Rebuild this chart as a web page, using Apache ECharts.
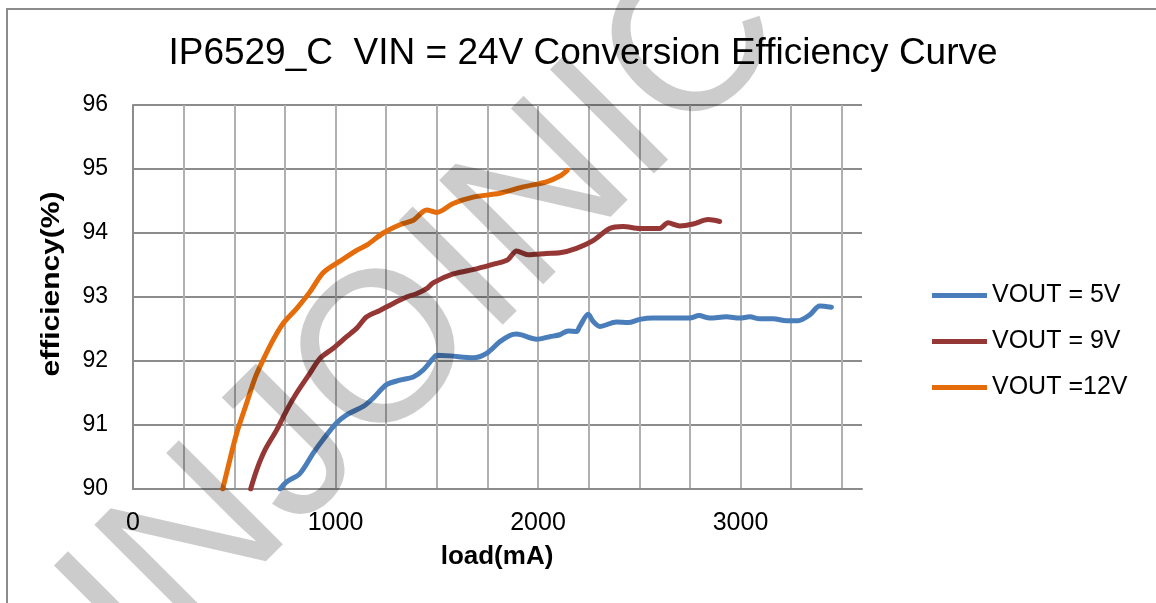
<!DOCTYPE html>
<html>
<head>
<meta charset="utf-8">
<title>IP6529_C efficiency</title>
<script src="https://cdn.jsdelivr.net/npm/echarts@6/dist/echarts.min.js"></script>
<style>
    html, body { margin: 0; padding: 0; background: #fff; }
    #chart { width: 1156px; height: 603px; }
</style>
</head>
<body>
<div id="chart"></div>
<script>
// 读图得到的数据 (load mA / efficiency %)
const load5 = [726, 758, 824, 890, 938, 1005, 1055, 1137, 1186, 1252, 1318, 1384, 1433, 1482, 1499, 1565, 1680, 1746, 1811, 1861, 1894, 1993, 2058, 2108, 2149, 2190, 2206, 2248, 2272, 2305, 2387, 2445, 2503, 2568, 2749, 2795, 2848, 2930, 2996, 3046, 3095, 3161, 3227, 3284, 3342, 3391, 3449];
const eff5 = [90.00, 90.11, 90.24, 90.56, 90.77, 91.03, 91.16, 91.29, 91.42, 91.63, 91.70, 91.75, 91.86, 92.04, 92.09, 92.08, 92.05, 92.12, 92.30, 92.40, 92.42, 92.34, 92.38, 92.41, 92.47, 92.46, 92.54, 92.73, 92.62, 92.54, 92.61, 92.60, 92.65, 92.67, 92.67, 92.71, 92.67, 92.69, 92.67, 92.69, 92.66, 92.66, 92.63, 92.63, 92.72, 92.86, 92.84];

const load9 = [581, 611, 652, 709, 759, 808, 874, 923, 989, 1055, 1104, 1154, 1219, 1285, 1351, 1400, 1450, 1482, 1581, 1696, 1790, 1850, 1894, 1951, 2042, 2108, 2190, 2272, 2354, 2420, 2503, 2601, 2642, 2700, 2766, 2840, 2897];
const eff9 = [90.00, 90.30, 90.61, 90.92, 91.23, 91.50, 91.81, 92.04, 92.20, 92.38, 92.51, 92.69, 92.79, 92.90, 93.00, 93.05, 93.13, 93.22, 93.36, 93.44, 93.52, 93.58, 93.72, 93.66, 93.68, 93.69, 93.76, 93.88, 94.07, 94.10, 94.07, 94.07, 94.16, 94.11, 94.14, 94.21, 94.18];

const load12 = [443, 470, 512, 561, 602, 643, 692, 742, 808, 874, 939, 1022, 1104, 1154, 1236, 1318, 1384, 1450, 1499, 1581, 1680, 1811, 1927, 2042, 2108, 2144];
const eff12 = [90.00, 90.35, 90.87, 91.34, 91.73, 92.02, 92.33, 92.59, 92.82, 93.08, 93.38, 93.56, 93.73, 93.81, 94.00, 94.13, 94.20, 94.36, 94.32, 94.46, 94.56, 94.62, 94.72, 94.80, 94.89, 94.98];

const seriesNames = ["VOUT = 5V", "VOUT = 9V", "VOUT =12V"];
const seriesColors = ["#4a7ebb", "#953735", "#e46c0a"];

function pairs(xs, ys) {
    return xs.map(function (x, i) { return [x, ys[i]]; });
}

let myChart = echarts.init(document.getElementById("chart"));

const font = "'Liberation Sans', Arial, sans-serif";

function makeLine(name, color, data) {
    return {
        name: name,
        type: "line",
        data: data,
        smooth: 0.3,
        showSymbol: false,
        symbol: "none",
        lineStyle: { color: color, width: 5, cap: "round", join: "round" },
        itemStyle: { color: color },
        z: 3,
    };
}

let option = {
    animation: false,
    backgroundColor: "#fff",
    title: {
        text: "IP6529_C  VIN = 24V Conversion Efficiency Curve",
        left: 578,
        top: 30,
        textAlign: "center",
        textStyle: { fontFamily: font, fontSize: 37, fontWeight: "normal", color: "#000" },
    },
    legend: {
        orient: "vertical",
        left: 932,
        top: 283,
        padding: 0,
        icon: "rect",
        itemWidth: 55,
        itemHeight: 5,
        itemGap: 21,
        data: seriesNames,
        textStyle: { fontFamily: font, fontSize: 25, color: "#000", lineHeight: 25 },
    },
    grid: { left: 133, right: 294, top: 105, bottom: 114, containLabel: false },
    xAxis: {
        type: "value",
        min: 0,
        max: 3600,
        interval: 250,
        axisLine: { show: true, lineStyle: { color: "#8c8c8c", width: 2 } },
        axisTick: { show: false },
        axisLabel: {
            margin: 22,
            fontFamily: font,
            fontSize: 25,
            color: "#000",
            showMaxLabel: false,
            formatter: function (v) { return v % 1000 === 0 ? String(v) : ""; },
        },
        splitLine: { show: true, showMaxLine: false, lineStyle: { color: "#b0b0b0", width: 2 } },
    },
    yAxis: {
        type: "value",
        min: 90,
        max: 96,
        interval: 1,
        axisLine: { show: true, lineStyle: { color: "#8c8c8c", width: 2 } },
        axisTick: { show: false },
        axisLabel: { margin: 25, fontFamily: font, fontSize: 23, color: "#000" },
        splitLine: { show: true, lineStyle: { color: "#8c8c8c", width: 2 } },
    },
    graphic: [
        // 外框
        {
            type: "rect",
            shape: { x: 7, y: 9, width: 1300, height: 800 },
            style: { fill: "none", stroke: "#8c8c8c", lineWidth: 2 },
            silent: true,
            z: 0,
        },
        // y轴标题 (原图沿文字方向略拉长)
        {
            type: "text",
            x: 52,
            y: 284,
            rotation: Math.PI / 2,
            scaleX: 1.2,
            style: {
                text: "efficiency(%)",
                font: "bold 25px " + font,
                fill: "#000",
                align: "center",
                verticalAlign: "middle",
            },
        },
        {
            type: "text",
            x: 497,
            y: 557,
            style: {
                text: "load(mA)",
                font: "bold 26px " + font,
                fill: "#000",
                align: "center",
                verticalAlign: "middle",
            },
        },
        // 水印
        {
            type: "text",
            x: 426,
            y: 318,
            rotation: Math.PI / 4,
            silent: true,
            z: 100,
            style: {
                text: "INJOINIC",
                font: "214px " + font,
                fill: "rgba(0,0,0,0.2)",
                align: "center",
                verticalAlign: "middle",
            },
        },
    ],
    series: [
        makeLine(seriesNames[0], seriesColors[0], pairs(load5, eff5)),
        makeLine(seriesNames[1], seriesColors[1], pairs(load9, eff9)),
        makeLine(seriesNames[2], seriesColors[2], pairs(load12, eff12)),
    ],
};

myChart.setOption(option);
window.addEventListener("resize", function () {
    myChart.resize();
});
</script>
</body>
</html>
